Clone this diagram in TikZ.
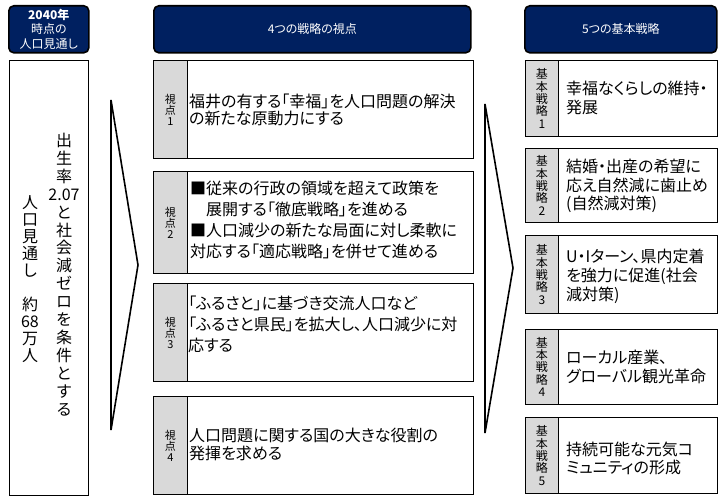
\documentclass[tikz,border=0pt]{standalone}
\usepackage{fontspec}
\setmainfont{Noto Sans CJK JP}[RawFeature=+palt]
\newfontfamily\colfont{Noto Sans CJK JP}
\definecolor{navy}{HTML}{002060}
\definecolor{cellgray}{HTML}{D9D9D9}
\begin{document}
\begin{tikzpicture}[x=1pt,y=-1pt,
  hdr/.style={draw=black, line width=1.6pt, fill=navy, rounded corners=5pt, text=white, inner sep=0pt, anchor=north west, align=center, font=\fontsize{12}{14.5}\selectfont},
  panel/.style={draw=black, line width=0.9pt, fill=white, inner sep=0pt, anchor=north west},
  cell/.style={draw=black, line width=0.9pt, fill=cellgray, inner sep=0pt, anchor=north west},
  celltext/.style={inner sep=0pt, align=center, font=\fontsize{11}{11}\selectfont},
  stext/.style={inner sep=0pt, align=center, font=\fontsize{12}{12.3}\selectfont},
  vtext/.style={inner sep=0pt, anchor=west, align=left, font=\fontsize{16}{#1}\selectfont},
  vtext/.default=17,
  coltext/.style={inner sep=0pt, anchor=north, align=center, font=\colfont\fontsize{16}{#1}\selectfont},
  coltext/.default=17.9,
  chev/.style={draw=black, line width=1.6pt, fill=white, line join=miter}
]
\useasboundingbox (0,0) rectangle (720,500);

% headers
\node[hdr, minimum width=80pt, minimum height=47pt] (h1) at (8,5) {\textbf{2040年}\\時点の\\人口見通し};
\node[hdr, minimum width=317pt, minimum height=47pt] (h2) at (153,5) {4つの戦略の視点};
\node[hdr, minimum width=192pt, minimum height=47pt] (h3) at (524,5) {5つの基本戦略};

% left panel
\node[panel, minimum width=79pt, minimum height=435pt] (lp) at (9,60) {};
\node[coltext] (c1) at (64,133) {出\\生\\率\\2.07\\と\\社\\会\\減\\ゼ\\ロ\\を\\条\\件\\と\\す\\る};
\node[coltext=17] (c2) at (30,195) {人\\口\\見\\通\\し\\\mbox{}\\約\\68\\万\\人};

% chevrons
\coordinate (a1t) at (111,100);
\coordinate (a1p) at (138,265);
\coordinate (a1b) at (111,430);
\draw[chev] (a1t) -- (a1p) -- (a1b) -- cycle;
\coordinate (a2t) at (485,104);
\coordinate (a2p) at (513,268);
\coordinate (a2b) at (485,433);
\draw[chev] (a2t) -- (a2p) -- (a2b) -- cycle;

% viewpoints
\node[panel, minimum width=320pt, minimum height=98pt] (v1) at (153,60) {};
\node[cell, minimum width=34pt, minimum height=98pt] (v1c) at (153,60) {};
\node[celltext] (v1l) at (v1c.center) {視\\点\\1};
\node[vtext] (v1t) at (189,110) {福井の有する「幸福」を人口問題の解決\\の新たな原動力にする};

\node[panel, minimum width=320pt, minimum height=102pt] (v2) at (153,171) {};
\node[cell, minimum width=34pt, minimum height=102pt] (v2c) at (153,171) {};
\node[celltext] (v2l) at (v2c.center) {視\\点\\2};
\node[vtext=21.3] (v2t) at (190,220) {■従来の行政の領域を超えて政策を\\\hspace*{16pt}展開する「徹底戦略」を進める\\■人口減少の新たな局面に対し柔軟に\\対応する「適応戦略」を併せて進める};

\node[panel, minimum width=320pt, minimum height=98pt] (v3) at (153,283) {};
\node[cell, minimum width=34pt, minimum height=98pt] (v3c) at (153,283) {};
\node[celltext] (v3l) at (v3c.center) {視\\点\\3};
\node[vtext=21] (v3t) at (188,324) {「ふるさと」に基づき交流人口など\\「ふるさと県民」を拡大し、人口減少に対\\応する};

\node[panel, minimum width=320pt, minimum height=98pt] (v4) at (153,396) {};
\node[cell, minimum width=34pt, minimum height=98pt] (v4c) at (153,396) {};
\node[celltext] (v4l) at (v4c.center) {視\\点\\4};
\node[vtext=18] (v4t) at (189,444) {人口問題に関する国の大きな役割の\\発揮を求める};

% basic strategies
\node[panel, minimum width=192pt, minimum height=76pt] (s1) at (525,60) {};
\node[cell, minimum width=33pt, minimum height=76pt] (s1c) at (525,60) {};
\node[stext] (s1l) at (s1c.center) {基\\本\\戦\\略\\1};
\node[vtext=19] (s1t) at (566,98) {幸福なくらしの維持・\\発展};

\node[panel, minimum width=192pt, minimum height=74pt] (s2) at (525,148) {};
\node[cell, minimum width=33pt, minimum height=74pt] (s2c) at (525,148) {};
\node[stext] (s2l) at (s2c.center) {基\\本\\戦\\略\\2};
\node[vtext=18.5] (s2t) at (566,186) {結婚・出産の希望に\\応え自然減に歯止め\\(自然減対策)};

\node[panel, minimum width=192pt, minimum height=78pt] (s3) at (525,235) {};
\node[cell, minimum width=33pt, minimum height=78pt] (s3c) at (525,235) {};
\node[stext] (s3l) at (s3c.center) {基\\本\\戦\\略\\3};
\node[vtext=19] (s3t) at (566,276) {U・Iターン、県内定着\\を強力に促進(社会\\減対策)};

\node[panel, minimum width=192pt, minimum height=75pt] (s4) at (525,329) {};
\node[cell, minimum width=33pt, minimum height=75pt] (s4c) at (525,329) {};
\node[stext] (s4l) at (s4c.center) {基\\本\\戦\\略\\4};
\node[vtext=19] (s4t) at (566,367) {ローカル産業、\\グローバル観光革命};

\node[panel, minimum width=192pt, minimum height=76pt] (s5) at (525,417) {};
\node[cell, minimum width=33pt, minimum height=76pt] (s5c) at (525,417) {};
\node[stext] (s5l) at (s5c.center) {基\\本\\戦\\略\\5};
\node[vtext=18] (s5t) at (566,458) {持続可能な元気コ\\ミュニティの形成};
\end{tikzpicture}
\end{document}
